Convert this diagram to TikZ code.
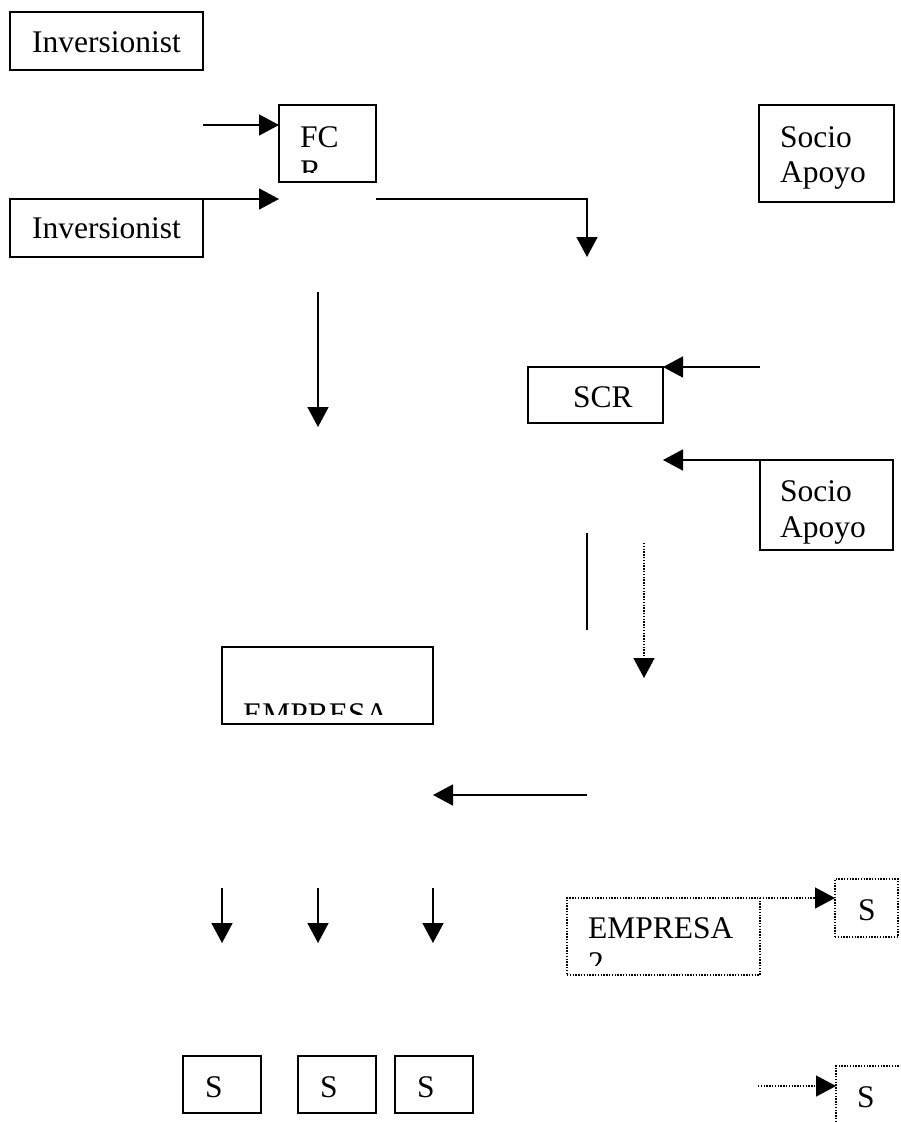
\documentclass[tikz,border=0pt]{standalone}
\usepackage{fontspec}
\setmainfont{Liberation Serif}
\usetikzlibrary{arrows.meta}
\begin{document}
\begin{tikzpicture}[x=1pt,y=-1pt,
  box/.style={draw, line width=1.6pt, inner sep=0pt, outer sep=0pt, anchor=north west},
  dbox/.style={box, line width=1.5pt, dash pattern=on 1.4pt off 1.4pt},
  lbl/.style={anchor=base west, inner sep=0pt, font=\fontsize{31.5}{35}\selectfont},
  con/.style={line width=1.6pt, -{Triangle[length=20pt,width=21pt]}},
  dcon/.style={con, line width=1.5pt, dash pattern=on 1.4pt off 1.4pt},
  plainline/.style={line width=1.6pt}]
\useasboundingbox (0,0) rectangle (900,1122);
\begin{scope}
\clip (0,0) rectangle (900,1122);
% boxes
\node[box, minimum width=193pt, minimum height=58pt] (inv1) at (10,12) {};
\node[lbl] (inv1t) at (32,52) {Inversionist};
\node[box, minimum width=97pt, minimum height=77pt] (fcr) at (279,105) {};
\node[lbl] (fcrt) at (300,147) {FC};
\begin{scope}
\clip (279,105) rectangle (376,172);
\node[lbl] (fcrt2) at (300,181) {R};
\end{scope}
\node[box, minimum width=193pt, minimum height=58pt] (inv2) at (10,199) {};
\node[lbl] (inv2t) at (32,238) {Inversionist};
\node[box, minimum width=135pt, minimum height=97pt] (soc1) at (759,105) {};
\node[lbl] (soc1a) at (780,147) {Socio};
\node[lbl] (soc1b) at (780,182) {Apoyo};
\node[box, minimum width=135pt, minimum height=56pt] (scr) at (528,367) {};
\node[lbl] (scrt) at (573,407) {SCR};
\node[box, minimum width=133pt, minimum height=90pt] (soc2) at (760,460) {};
\node[lbl] (soc2a) at (780,501) {Socio};
\node[lbl] (soc2b) at (780,537) {Apoyo};
\node[box, minimum width=211pt, minimum height=77pt] (emp) at (222,647) {};
\begin{scope}
\clip (222,647) rectangle (433,714);
\node[lbl] (empt) at (243,724) {EMPRESA};
\end{scope}
\node[dbox, minimum width=193pt, minimum height=77pt] (emp2) at (567,898) {};
\node[lbl] (emp2t) at (588,938) {EMPRESA};
\begin{scope}
\clip (567,898) rectangle (760,965);
\node[lbl] (emp2n) at (588,973) {2};
\end{scope}
\node[dbox, minimum width=63pt, minimum height=58pt] (s4) at (835,879) {};
\node[lbl] (s4t) at (858,920) {S};
\node[box, minimum width=78pt, minimum height=57pt] (s1) at (183,1056) {};
\node[lbl] (s1t) at (205,1097) {S};
\node[box, minimum width=78pt, minimum height=57pt] (s2) at (298,1056) {};
\node[lbl] (s2t) at (320,1097) {S};
\node[box, minimum width=78pt, minimum height=57pt] (s3) at (395,1056) {};
\node[lbl] (s3t) at (417,1097) {S};
\node[dbox, minimum width=120pt, minimum height=100pt] (s5) at (836,1066) {};
\node[lbl] (s5t) at (857,1107) {S};
% connector ends
\coordinate (c1) at (203,125);
\coordinate (c2) at (279,199);
\coordinate (c3) at (376,199);
\coordinate (c4) at (587,199);
\coordinate (c5) at (587,257);
\coordinate (c6) at (318,292);
\coordinate (c7) at (318,427);
\coordinate (c8) at (760,367);
\coordinate (c9) at (663,460);
\coordinate (c10) at (587,533);
\coordinate (c11) at (587,630);
\coordinate (c12) at (644,543);
\coordinate (c13) at (644,678);
\coordinate (c14) at (587,795);
\coordinate (c15) at (433,795);
\coordinate (d1) at (222,888);
\coordinate (d2) at (318,888);
\coordinate (d3) at (433,888);
\coordinate (e1) at (222,943);
\coordinate (e2) at (318,943);
\coordinate (e3) at (433,943);
\coordinate (c16) at (758,1086);
% connectors
\draw[con] (c1) -- (fcr.west |- c1);
\draw[con] (inv2.north east) -- (c2);
\draw[con] (c3) -- (c4) -- (c5);
\draw[con] (c6) -- (c7);
\draw[con] (c8) -- (scr.north east);
\draw[con] (soc2.north west) -- (c9);
\draw[plainline] (c10) -- (c11);
\draw[dcon] (c12) -- (c13);
\draw[con] (c14) -- (c15);
\draw[con] (d1) -- (e1);
\draw[con] (d2) -- (e2);
\draw[con] (d3) -- (e3);
\draw[dcon] (emp2.north east) -- (s4.west |- emp2.north east);
\draw[dcon] (c16) -- (s5.west |- c16);
\end{scope}
\end{tikzpicture}
\end{document}
